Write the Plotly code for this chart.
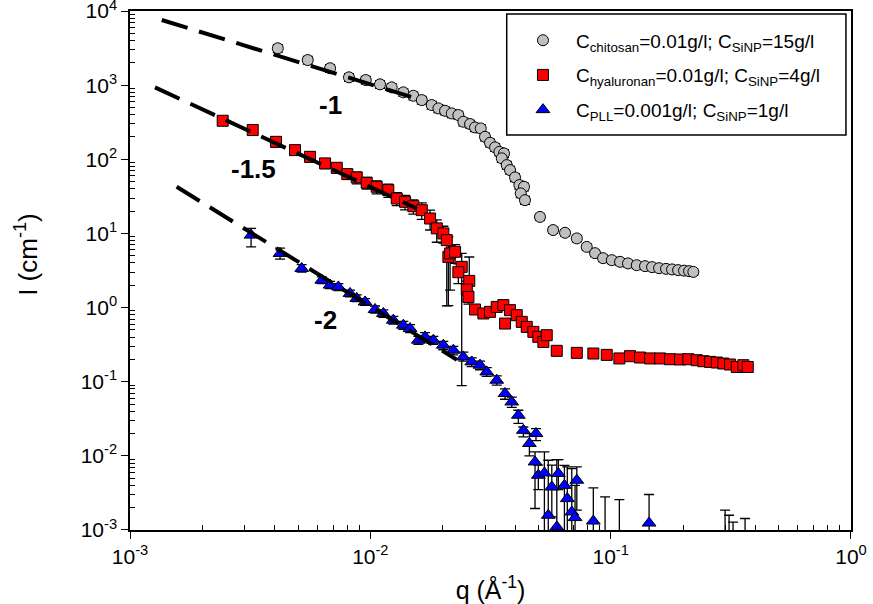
import math
import plotly.graph_objects as go

# chitosan / SiNP (grey circles)
q_chi = [0.00412, 0.00549, 0.00680, 0.00815, 0.00957, 0.01097, 0.01227, 0.01372, 0.01510, 0.01637,
         0.0180, 0.0192, 0.02046, 0.02182, 0.02324, 0.02438, 0.0260, 0.02727, 0.02880, 0.0300,
         0.03148, 0.03304, 0.03442, 0.0360, 0.03523, 0.03695, 0.03813, 0.0400, 0.0417, 0.0436,
         0.04225, 0.0440, 0.0508, 0.0576, 0.0646, 0.0723, 0.0795, 0.0861, 0.0930, 0.1011,
         0.1094, 0.1181, 0.1284, 0.1390, 0.1487, 0.159, 0.170, 0.180, 0.1908, 0.2020,
         0.212, 0.2208]
I_chi = [3140, 2180, 1690, 1275, 1172, 1025, 934, 800, 719, 629,
         539, 486, 451, 416, 395, 321, 299, 269, 261, 201,
         167, 145, 126, 120, 103, 83.5, 71.5, 57, 44.9, 42.6,
         34.7, 28.1, 16.7, 11.1, 10.2, 8.57, 6.59, 5.42, 4.64, 4.36,
         4.14, 3.94, 3.73, 3.62, 3.51, 3.40, 3.33, 3.27, 3.20, 3.15,
         3.10, 3.03]
err_chi = [0.12, 0.12, 0.12, 0.12, 0.12, 0.12, 0.12, 0.12, 0.12, 0.12,
           0.12, 0.12, 0.12, 0.12, 0.12, 0.12, 0.12, 0.12, 0.12, 0.12,
           0.12, 0.12, 0.12, 0.12, 0.12, 0.12, 0.12, 0.12, 0.12, 0.12,
           0.12, 0.12, 0.1, 0.1, 0.1, 0.1, 0.1, 0.1, 0.1, 0.1,
           0.1, 0.1, 0.1, 0.1, 0.1, 0.1, 0.1, 0.1, 0.1, 0.1,
           0.1, 0.1]

# hyaluronan / SiNP (red squares)
q_hya = [0.00243, 0.00324, 0.00405, 0.00486, 0.00561, 0.00648, 0.00725, 0.00802, 0.00878, 0.00966,
         0.01063, 0.01188, 0.01288, 0.01395, 0.0151, 0.01637, 0.01772, 0.0189, 0.02013, 0.0208,
         0.02112, 0.02147, 0.02252, 0.0240, 0.02324, 0.0258, 0.0252, 0.0256, 0.02727, 0.02954,
         0.03148, 0.03357, 0.03577, 0.03635, 0.03813, 0.04066, 0.04266, 0.04475, 0.04768, 0.0500,
         0.05247, 0.0542, 0.05966, 0.0723, 0.0847, 0.0963, 0.1087, 0.1204, 0.1325, 0.1459,
         0.1606, 0.1767, 0.1944, 0.2105, 0.2282, 0.2431, 0.2593, 0.2764, 0.2944, 0.3140,
         0.3348, 0.3566, 0.372]
I_hya = [331, 248, 172, 133, 108, 88, 76.8, 63.1, 57, 48.2,
         42.6, 38.4, 29.6, 26.7, 23.3, 20.6, 15.9, 11.7, 10.0, 8.12,
         4.83, 5.37, 5.65, 3.54, 3.0, 2.29, 1.75, 1.39, 0.942, 0.832,
         0.875, 1.02, 1.08, 0.609, 0.923, 0.789, 0.641, 0.549, 0.470, 0.403,
         0.344, 0.424, 0.261, 0.245, 0.240, 0.230, 0.206, 0.221, 0.212, 0.206,
         0.206, 0.201, 0.1995, 0.201, 0.195, 0.189, 0.185, 0.1816, 0.176, 0.1706,
         0.158, 0.167, 0.158]
up_hya = [0.12, 0.12, 0.15, 0.15, 0.15, 0.15, 0.15, 0.15, 0.18, 0.18,
          0.2, 0.2, 0.2, 0.22, 0.22, 0.25, 0.3, 0.3, 0.25, 0.1,
          0.86, 0.3, 0.25, 0.52, 0.3, 1.1, 0.3, 0.2, 0.1, 0.1,
          0.1, 0.1, 0.1, 0.1, 0.1, 0.1, 0.1, 0.1, 0.1, 0.1,
          0.1, 0.1, 0.1, 0.1, 0.1, 0.1, 0.1, 0.1, 0.1, 0.1,
          0.1, 0.1, 0.1, 0.1, 0.1, 0.1, 0.1, 0.1, 0.1, 0.1,
          0.1, 0.1, 0.1]
dn_hya = [0.12, 0.12, 0.15, 0.15, 0.15, 0.15, 0.15, 0.15, 0.18, 0.18,
          0.2, 0.2, 0.2, 0.22, 0.22, 0.25, 0.3, 0.35, 0.26, 0.87,
          0.78, 0.68, 0.3, 0.975, 0.3, 0.3, 0.3, 0.2, 0.1, 0.1,
          0.1, 0.1, 0.1, 0.1, 0.1, 0.1, 0.1, 0.1, 0.1, 0.1,
          0.1, 0.1, 0.1, 0.1, 0.1, 0.1, 0.1, 0.1, 0.1, 0.1,
          0.1, 0.1, 0.1, 0.1, 0.1, 0.1, 0.1, 0.1, 0.1, 0.1,
          0.1, 0.1, 0.1]

# PLL / SiNP (blue triangles); last six points lie below the axis, only bar tops show
q_pll = [0.00319, 0.00421, 0.00518, 0.00628, 0.0068, 0.00736, 0.00823, 0.00878, 0.00951, 0.01046,
         0.01133, 0.01246, 0.01372, 0.01463, 0.01584, 0.01689, 0.01829, 0.02013, 0.02215, 0.02438,
         0.02642, 0.0286, 0.0305, 0.03357, 0.03635, 0.03877, 0.0413, 0.04333, 0.0489, 0.0459,
         0.04845, 0.0500, 0.0530, 0.0550, 0.0569, 0.0597, 0.0606, 0.0642, 0.0660, 0.0689,
         0.0711, 0.0723, 0.0847, 0.1445, 0.0948, 0.1087, 0.2993, 0.311, 0.323, 0.3625]
I_pll = [9.49, 5.37, 3.37, 2.34, 2.01, 1.90, 1.55, 1.33, 1.19, 0.942,
         0.832, 0.676, 0.579, 0.522, 0.363, 0.403, 0.363, 0.311, 0.266, 0.216,
         0.185, 0.167, 0.1355, 0.1047, 0.0693, 0.0533, 0.0353, 0.0221, 0.0200, 0.01466,
         0.00828, 0.00547, 0.00587, 0.00158, 0.0038, 0.0011, 0.00577, 0.0040, 0.00265, 0.00175,
         0.00147, 0.00469, 0.00132, 0.00124, 0.0006, 0.0006, 0.0006, 0.0006, 0.0006, 0.0006]
hi_pll = [11.7, 6.33, 3.8, 2.6, 2.25, 2.1, 1.72, 1.48, 1.32, 1.05,
          0.93, 0.76, 0.65, 0.59, 0.41, 0.46, 0.41, 0.35, 0.30, 0.25,
          0.21, 0.19, 0.155, 0.12, 0.08, 0.062, 0.0412, 0.0245, 0.0233, 0.02,
          0.0113, 0.0075, 0.0113, 0.00873, 0.0075, 0.00891, 0.00891, 0.00746, 0.00708, 0.00674,
          0.004, 0.00708, 0.00369, 0.00301, 0.00279, 0.00257, 0.00185, 0.00158, 0.00128, 0.00143]
lo_pll = [6.59, 4.5, 3.0, 2.1, 1.8, 1.7, 1.4, 1.2, 1.07, 0.84,
          0.74, 0.6, 0.51, 0.46, 0.32, 0.35, 0.32, 0.27, 0.23, 0.19,
          0.16, 0.145, 0.118, 0.09, 0.058, 0.045, 0.0275, 0.018, 0.016, 0.01,
          0.00195, 0.0035, 0, 0, 0.0015, 0, 0.0035, 0, 0, 0,
          0, 0.00185, 0, 0, 0, 0, 0, 0, 0, 0]

# power-law guide lines (end points) and their slope labels
guide_q = [[0.001355, 0.01637], [0.00127, 0.0156], [0.001563, 0.0229]]
guide_I = [[7570, 627], [933, 21.7], [42.6, 0.198]]
slope_text = ["-1", "-1.5", "-2"]
slope_q = [0.00685, 0.00325, 0.00648]
slope_I = [538, 74, 0.69]

names = ["C<sub>chitosan</sub>=0.01g/l; C<sub>SiNP</sub>=15g/l",
         "C<sub>hyaluronan</sub>=0.01g/l; C<sub>SiNP</sub>=4g/l",
         "C<sub>PLL</sub>=0.001g/l; C<sub>SiNP</sub>=1g/l"]

FONT = "Liberation Sans, Arial, sans-serif"
fig = go.Figure()

ebar = dict(type="data", color="black", thickness=1.3, width=5)

fig.add_trace(go.Scatter(
    x=q_chi, y=I_chi, mode="markers", name=names[0], legendgroup="a",
    marker=dict(symbol="circle", size=11, color="#c0c0c0", line=dict(color="black", width=1)),
    error_y=dict(array=[v * e for v, e in zip(I_chi, err_chi)],
                 arrayminus=[v * e for v, e in zip(I_chi, err_chi)], **ebar)))

fig.add_trace(go.Scatter(
    x=q_hya, y=I_hya, mode="markers", name=names[1], legendgroup="b",
    marker=dict(symbol="square", size=11, color="#ff0000", line=dict(color="black", width=1)),
    error_y=dict(array=[v * e for v, e in zip(I_hya, up_hya)],
                 arrayminus=[v * e for v, e in zip(I_hya, dn_hya)], **ebar)))

fig.add_trace(go.Scatter(
    x=q_pll, y=I_pll, mode="markers", name=names[2], legendgroup="c",
    marker=dict(symbol="triangle-up", size=12, color="#0000ff", line=dict(color="black", width=1)),
    error_y=dict(array=[h - v for h, v in zip(hi_pll, I_pll)],
                 arrayminus=[v - l for v, l in zip(I_pll, lo_pll)], **ebar)))

for gq, gI in zip(guide_q, guide_I):
    fig.add_trace(go.Scatter(x=gq, y=gI, mode="lines", showlegend=False, hoverinfo="skip",
                             line=dict(color="black", width=4, dash="27px,12px")))

for t, sq, sI in zip(slope_text, slope_q, slope_I):
    fig.add_annotation(x=math.log10(sq), y=math.log10(sI), text="<b>%s</b>" % t, showarrow=False,
                       font=dict(family=FONT, size=26, color="black"))

# y axis title placed by hand
fig.add_annotation(xref="paper", yref="paper", x=-0.1429, y=0.532, xanchor="center", yanchor="middle",
                   text="I (cm<sup>-1</sup>)", textangle=-90, showarrow=False,
                   font=dict(family=FONT, size=26, color="black"))

# legend frame
fig.add_shape(type="rect", xref="paper", yref="paper", x0=0.5225, x1=0.993, y0=0.761, y1=0.994,
              line=dict(color="black", width=1.5), fillcolor="white", layer="below")

decades = [-3, -2, -1, 0]
minor_x = [m * 10.0 ** e for e in range(-3, 0) for m in range(2, 10)]
ydec = [-3, -2, -1, 0, 1, 2, 3, 4]
minor_y = [m * 10.0 ** e for e in range(-3, 4) for m in range(2, 10)]

axis_common = dict(type="log", showgrid=False, zeroline=False, showline=True, linecolor="black",
                   linewidth=1.5, mirror=True, ticks="outside", ticklen=7, tickwidth=1,
                   tickcolor="black", ticklabeloverflow="allow", automargin=False,
                   tickfont=dict(family=FONT, size=21, color="black"))

fig.update_xaxes(range=[-3.0001, 0.0001], tickmode="array",
                 tickvals=[10.0 ** d for d in decades],
                 ticktext=["10<sup>%d</sup>" % d for d in decades],
                 minor=dict(tickmode="array", tickvals=minor_x, ticks="inside", ticklen=5,
                            tickcolor="black", showgrid=False),
                 title=dict(text="q (Å<sup>-1</sup>)", font=dict(family=FONT, size=25, color="black"),
                            standoff=15),
                 **axis_common)
fig.update_yaxes(range=[-3.0001, 4.0001], tickmode="array",
                 tickvals=[10.0 ** d for d in ydec],
                 ticktext=["10<sup>%d</sup>" % d for d in ydec],
                 minor=dict(tickmode="array", tickvals=minor_y, ticks="inside", ticklen=5,
                            tickcolor="black", showgrid=False),
                 **axis_common)

fig.update_layout(
    width=873, height=604,
    margin=dict(l=130, r=22, t=11, b=74),
    plot_bgcolor="white", paper_bgcolor="white",
    font=dict(family=FONT, color="black"),
    legend=dict(x=0.527, y=0.98, xanchor="left", yanchor="top", bgcolor="rgba(0,0,0,0)",
                borderwidth=0, itemwidth=56, tracegroupgap=7,
                font=dict(family=FONT, size=19, color="black")),
)

fig.write_html("out.html", config={"displayModeBar": False},
               post_script="document.body.style.margin='0px';")
